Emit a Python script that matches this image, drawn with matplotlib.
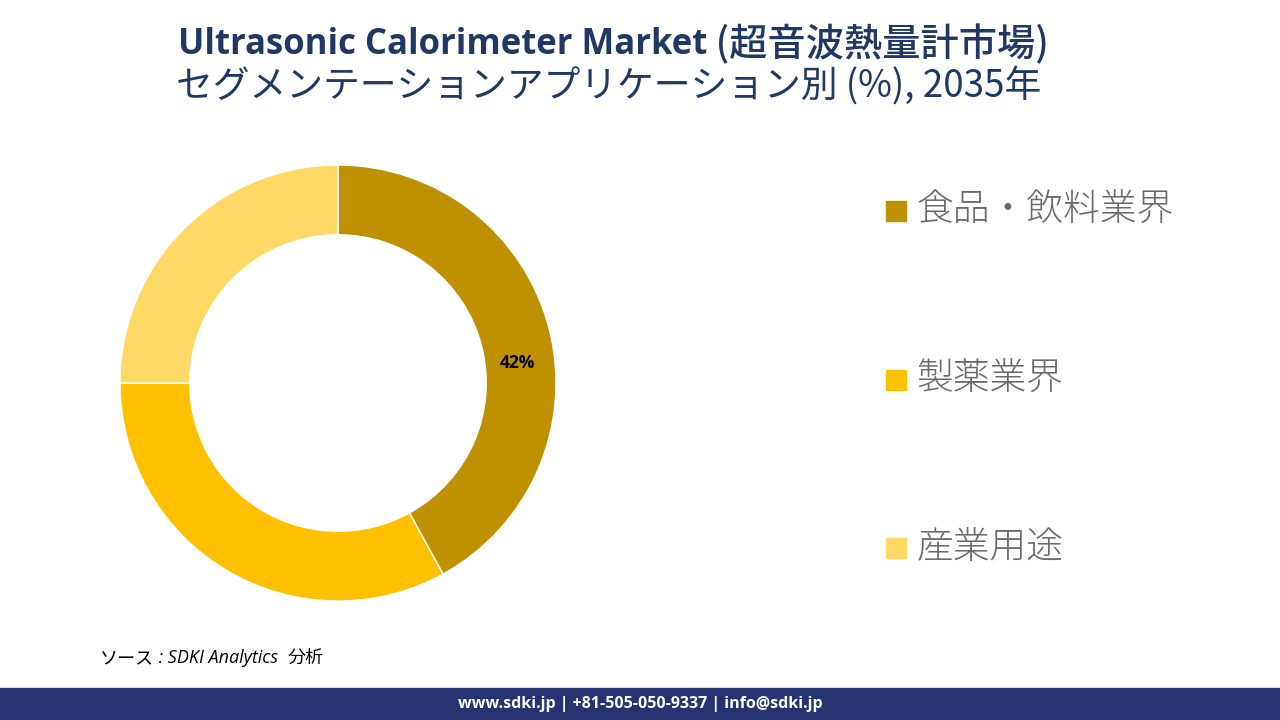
import matplotlib.pyplot as plt
import matplotlib.patches as mpatches
import numpy as np

plt.rcParams['font.family'] = ['Noto Sans CJK JP', 'DejaVu Sans']

# data
categories = ['食品・飲料業界', '製薬業界', '産業用途']
shares = [42, 33, 25]
colors = ['#BF9000', '#FFC000', '#FFD966']
title_en = 'Ultrasonic Calorimeter Market'
title_jp = ' (超音波熱量計市場)'
subtitle = 'セグメンテーションアプリケーション別 (%), 2035年'
source_parts = ['ソース', ' : SDKI Analytics  ', '分析']
footer = 'www.sdki.jp | +81-505-050-9337 | info@sdki.jp'

W, H = 1280, 720
fig = plt.figure(figsize=(W / 100, H / 100), dpi=100)
fig.patch.set_facecolor('white')

# donut
cx, cy, r = 338, 383, 218
ax = fig.add_axes([(cx - r) / W, (H - cy - r) / H, 2 * r / W, 2 * r / H])
wedges, _ = ax.pie(shares, colors=colors, startangle=90, counterclock=False,
                   wedgeprops=dict(width=0.32, edgecolor='white', linewidth=1))
ax.set_xlim(-1, 1)
ax.set_ylim(-1, 1)
ax.set_aspect('equal')
ax.axis('off')

# label for the largest slice only
w0 = wedges[0]
mid = np.deg2rad((w0.theta1 + w0.theta2) / 2 - 8)
ax.text(0.83 * np.cos(mid), 0.83 * np.sin(mid), f'{shares[0]}%',
        ha='center', va='center', fontsize=12.5, fontweight='bold',
        family=['Open Sans', 'DejaVu Sans'], color='black')

# legend
leg_y = [211, 380, 548]
for cat, col, y in zip(categories, colors, leg_y):
    fig.patches.append(mpatches.Rectangle((886 / W, (H - y - 10) / H), 20 / W, 20 / H,
                                          transform=fig.transFigure, color=col))
    fig.text(916 / W, (H - y) / H, cat, fontsize=26.5, color='#6a6a6a',
             fontweight='light', ha='left', va='center')

# title
t1 = fig.text(178 / W, (H - 45) / H, title_en, fontsize=25, fontweight='bold',
              color='#1F3864', ha='left', va='center',
              family=['Open Sans', 'Noto Sans CJK JP'])
fig.canvas.draw()
bb = t1.get_window_extent()
fig.text(bb.x1 / W, (H - 45) / H, title_jp, fontsize=27.5, color='#1F3864',
         fontweight='medium', ha='left', va='center',
         family=['Noto Sans CJK JP', 'DejaVu Sans'])
fig.text(609 / W, (H - 86) / H, subtitle, fontsize=26.5, color='#1F3864',
         ha='center', va='center')

# source, pieced together so the latin part can be italic
x = 100
renderer = fig.canvas.get_renderer()
for i, part in enumerate(source_parts):
    kw = dict(fontsize=13, color='black', ha='left', va='center')
    if i == 1:
        kw.update(style='italic', family=['Open Sans', 'DejaVu Sans'])
    t = fig.text(x / W, (H - 658) / H, part, **kw)
    x = t.get_window_extent(renderer).x1

# footer bar
fig.patches.append(mpatches.Rectangle((0, 0), 1, 32 / H, transform=fig.transFigure,
                                      color='#263371'))
fig.text(640 / W, 16 / H, footer, fontsize=11.5, fontweight='bold', color='white',
         ha='center', va='center', family=['Open Sans', 'DejaVu Sans'])

fig.savefig('out.png', dpi=100)
